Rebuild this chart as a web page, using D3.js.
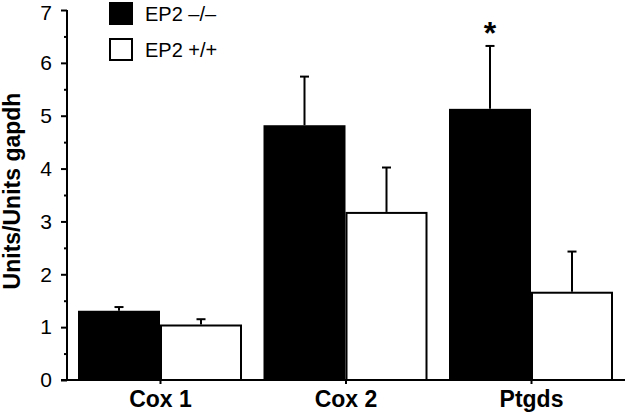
<!DOCTYPE html>
<html>
<head>
<meta charset="utf-8">
<script src="https://cdn.jsdelivr.net/npm/d3@7"></script>
<style>
  html, body { margin: 0; padding: 0; background: #fff; }
  svg { display: block; font-family: "Liberation Sans", Arial, sans-serif; }
</style>
</head>
<body>
<svg id="chart" width="625" height="417"></svg>
<script>
const categories = ["Cox 1", "Cox 2", "Ptgds"];
const seriesNames = ["EP2 \u2013/\u2013", "EP2 +/+"];
const koValues = [1.31, 4.82, 5.13];
const koErrors = [0.07, 0.92, 1.19];
const wtValues = [1.05, 3.18, 1.67];
const wtErrors = [0.10, 0.84, 0.76];
const significant = [false, false, true];
const yTicks = [0, 1, 2, 3, 4, 5, 6, 7];
const yMinorTicks = [0.5, 1.5, 2.5, 3.5, 4.5, 5.5, 6.5];
const yLabel = "Units/Units gapdh";

const svg = d3.select("#chart");
const y = d3.scaleLinear().domain([0, 7]).range([380, 10]);
const x = d3.scalePoint().domain(categories).range([160, 531]);
const sub = d3.scaleBand().domain([0, 1]).range([-82, 82]);
const fills = ["#000", "#fff"];

const rows = [];
categories.forEach((c, i) => {
  rows.push({cat: c, s: 0, v: koValues[i], e: koErrors[i], sig: significant[i]});
  rows.push({cat: c, s: 1, v: wtValues[i], e: wtErrors[i], sig: false});
});

// error bars
const eg = svg.append("g").attr("stroke", "#000").attr("stroke-width", 2);
rows.forEach(d => {
  const cx = x(d.cat) + sub(d.s) + sub.bandwidth() / 2;
  eg.append("line").attr("x1", cx).attr("x2", cx).attr("y1", y(d.v)).attr("y2", y(d.v + d.e));
  eg.append("line").attr("x1", cx - 4.5).attr("x2", cx + 4.5).attr("y1", y(d.v + d.e)).attr("y2", y(d.v + d.e));
});

// bars
svg.append("g").selectAll("rect").data(rows).join("rect")
  .attr("x", d => x(d.cat) + sub(d.s) + (d.s === 1 ? 1 : 0))
  .attr("width", d => sub.bandwidth() - (d.s === 1 ? 2 : 0))
  .attr("y", d => y(d.v) + (d.s === 1 ? 1 : 0))
  .attr("height", d => y(0) - y(d.v) - (d.s === 1 ? 1 : 0))
  .attr("fill", d => fills[d.s])
  .attr("stroke", d => d.s === 1 ? "#000" : "none")
  .attr("stroke-width", 2);

// significance
rows.filter(d => d.sig).forEach(d => {
  const cx = x(d.cat) + sub(d.s) + sub.bandwidth() / 2;
  svg.append("text").attr("x", cx).attr("y", y(d.v + d.e) - 2)
    .attr("text-anchor", "middle").style("font-size", "32px").style("font-weight", "bold")
    .text("*");
});

// y axis
const yAxis = d3.axisLeft(y).tickValues(yTicks).tickSize(6).tickPadding(9).tickFormat(d3.format("d"));
const yg = svg.append("g").attr("transform", "translate(67,0)").call(yAxis);
yg.attr("font-size", null).attr("font-family", null);
yg.select(".domain").attr("stroke-width", 2).attr("d", `M0,${y(0)}V${y(7)}`);
yg.selectAll(".tick line").attr("stroke-width", 2);
yg.selectAll(".tick text").style("font-size", "21px").attr("fill", "#000")
  .attr("y", d => d === 7 ? 3 : 0);
const ym = d3.axisLeft(y).tickValues(yMinorTicks).tickSize(3).tickFormat("");
const ymg = svg.append("g").attr("transform", "translate(67,0)").call(ym);
ymg.select(".domain").remove();
ymg.selectAll(".tick line").attr("stroke-width", 2);

// x axis
const xAxis = d3.axisBottom(x).tickSize(4).tickPadding(7);
const xg = svg.append("g").attr("transform", `translate(0,${y(0)})`).call(xAxis);
xg.attr("font-size", null).attr("font-family", null);
xg.select(".domain").attr("stroke-width", 2).attr("d", "M61,0H625");
xg.selectAll(".tick line").attr("stroke-width", 2);
xg.selectAll(".tick text").style("font-size", "23px").style("font-weight", "bold").attr("fill", "#000");

// y label
svg.append("text").attr("transform", "translate(20,191) rotate(-90)")
  .attr("text-anchor", "middle").style("font-size", "23px").style("font-weight", "bold")
  .text(yLabel);

// legend
const lg = svg.append("g");
seriesNames.forEach((n, i) => {
  lg.append("rect").attr("x", 110).attr("y", 3 + i * 36).attr("width", 22).attr("height", 21)
    .attr("fill", fills[i]).attr("stroke", "#000").attr("stroke-width", 2);
  lg.append("text").attr("x", 145).attr("y", 21 + i * 36).style("font-size", "20px").text(n);
});
</script>
</body>
</html>
